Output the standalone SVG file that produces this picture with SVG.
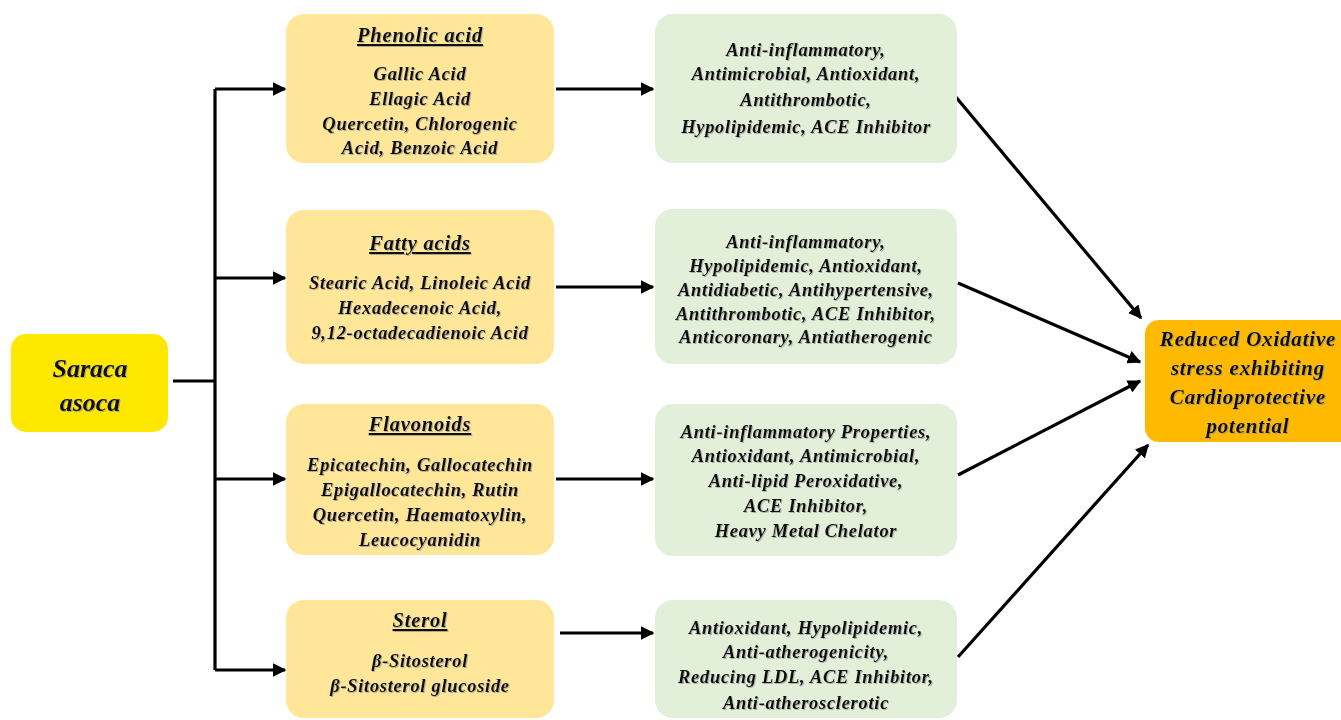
<svg xmlns="http://www.w3.org/2000/svg" width="1341" height="720" viewBox="0 0 1341 720">
<defs>
<style>
text{font-family:"Liberation Serif","Times New Roman",serif;font-weight:bold;font-style:italic;fill:#111;text-anchor:middle;filter:url(#sh)}
.t{font-size:18.5px;letter-spacing:0.7px}
.h{font-size:20.5px;letter-spacing:0.8px;text-decoration:underline}
.big{font-size:26px}
.o{font-size:21px;letter-spacing:0.8px}
.yel{fill:#FFE699}
.grn{fill:#E2F0D9}
.conn{stroke:#000;stroke-width:3.2;fill:none}
</style>
<filter id="sh" x="-5%" y="-20%" width="110%" height="140%">
<feDropShadow dx="1" dy="1" stdDeviation="0.6" flood-color="#888" flood-opacity="0.6"/>
</filter>
<marker id="ah" viewBox="0 0 10 10" refX="9" refY="5" markerWidth="4.2" markerHeight="4.2" orient="auto" markerUnits="strokeWidth">
<path d="M0,0 L10,5 L0,10 z" fill="#000"/>
</marker>
</defs>
<rect width="1341" height="720" fill="#fff"/>

<g id="connectors">
<path class="conn" d="M173,381 H215"/>
<path class="conn" d="M215,89 V670"/>
<path class="conn" d="M215,89 H285" marker-end="url(#ah)"/>
<path class="conn" d="M215,278 H285" marker-end="url(#ah)"/>
<path class="conn" d="M215,479 H285" marker-end="url(#ah)"/>
<path class="conn" d="M215,670 H285" marker-end="url(#ah)"/>
<path class="conn" d="M556,89 H653" marker-end="url(#ah)"/>
<path class="conn" d="M556,287 H653" marker-end="url(#ah)"/>
<path class="conn" d="M556,479 H653" marker-end="url(#ah)"/>
<path class="conn" d="M560,633 H653" marker-end="url(#ah)"/>
<path class="conn" d="M950,90 L1141,318" marker-end="url(#ah)"/>
<path class="conn" d="M958,283 L1140,362" marker-end="url(#ah)"/>
<path class="conn" d="M958,475 L1140,381" marker-end="url(#ah)"/>
<path class="conn" d="M958,657 L1148,445" marker-end="url(#ah)"/>
</g>

<g id="saraca">
<rect x="11" y="334" width="157" height="98" rx="15" fill="#FFE800"/>
<text class="big" x="90" y="377">Saraca</text>
<text class="big" x="90" y="411">asoca</text>
</g>

<g id="phenolic">
<rect class="yel" x="286" y="14" width="268" height="149" rx="18"/>
<text class="h" x="420" y="42">Phenolic acid</text>
<text class="t" x="420" y="80">Gallic Acid</text>
<text class="t" x="420" y="105">Ellagic Acid</text>
<text class="t" x="420" y="130">Quercetin, Chlorogenic</text>
<text class="t" x="420" y="154">Acid, Benzoic Acid</text>
</g>

<g id="fatty">
<rect class="yel" x="286" y="210" width="268" height="154" rx="18"/>
<text class="h" x="420" y="250">Fatty acids</text>
<text class="t" x="420" y="289">Stearic Acid, Linoleic Acid</text>
<text class="t" x="420" y="314">Hexadecenoic Acid,</text>
<text class="t" x="420" y="339">9,12-octadecadienoic Acid</text>
</g>

<g id="flavonoids">
<rect class="yel" x="286" y="404" width="268" height="151" rx="18"/>
<text class="h" x="420" y="431">Flavonoids</text>
<text class="t" x="420" y="471">Epicatechin, Gallocatechin</text>
<text class="t" x="420" y="496">Epigallocatechin, Rutin</text>
<text class="t" x="420" y="521">Quercetin, Haematoxylin,</text>
<text class="t" x="420" y="546">Leucocyanidin</text>
</g>

<g id="sterol">
<rect class="yel" x="286" y="600" width="268" height="118" rx="18"/>
<text class="h" x="420" y="627">Sterol</text>
<text class="t" x="420" y="667">β-Sitosterol</text>
<text class="t" x="420" y="692">β-Sitosterol glucoside</text>
</g>

<g id="act1">
<rect class="grn" x="655" y="14" width="302" height="149" rx="18"/>
<text class="t" x="806" y="56">Anti-inflammatory,</text>
<text class="t" x="806" y="80">Antimicrobial, Antioxidant,</text>
<text class="t" x="806" y="106">Antithrombotic,</text>
<text class="t" x="806" y="133">Hypolipidemic, ACE Inhibitor</text>
</g>

<g id="act2">
<rect class="grn" x="655" y="209" width="302" height="155" rx="18"/>
<text class="t" x="806" y="248">Anti-inflammatory,</text>
<text class="t" x="806" y="272">Hypolipidemic, Antioxidant,</text>
<text class="t" x="806" y="296">Antidiabetic, Antihypertensive,</text>
<text class="t" x="806" y="320">Antithrombotic, ACE Inhibitor,</text>
<text class="t" x="806" y="343">Anticoronary, Antiatherogenic</text>
</g>

<g id="act3">
<rect class="grn" x="655" y="404" width="302" height="152" rx="18"/>
<text class="t" x="806" y="438">Anti-inflammatory Properties,</text>
<text class="t" x="806" y="462">Antioxidant, Antimicrobial,</text>
<text class="t" x="806" y="487">Anti-lipid Peroxidative,</text>
<text class="t" x="806" y="512">ACE Inhibitor,</text>
<text class="t" x="806" y="537">Heavy Metal Chelator</text>
</g>

<g id="act4">
<rect class="grn" x="655" y="600" width="302" height="118" rx="18"/>
<text class="t" x="806" y="634">Antioxidant, Hypolipidemic,</text>
<text class="t" x="806" y="658">Anti-atherogenicity,</text>
<text class="t" x="806" y="683">Reducing LDL, ACE Inhibitor,</text>
<text class="t" x="806" y="709">Anti-atherosclerotic</text>
</g>

<g id="outcome">
<rect x="1145" y="320" width="210" height="122" rx="14" fill="#FFBA00"/>
<text class="o" x="1248" y="346">Reduced Oxidative</text>
<text class="o" x="1248" y="375">stress exhibiting</text>
<text class="o" x="1248" y="404">Cardioprotective</text>
<text class="o" x="1248" y="433">potential</text>
</g>
</svg>
